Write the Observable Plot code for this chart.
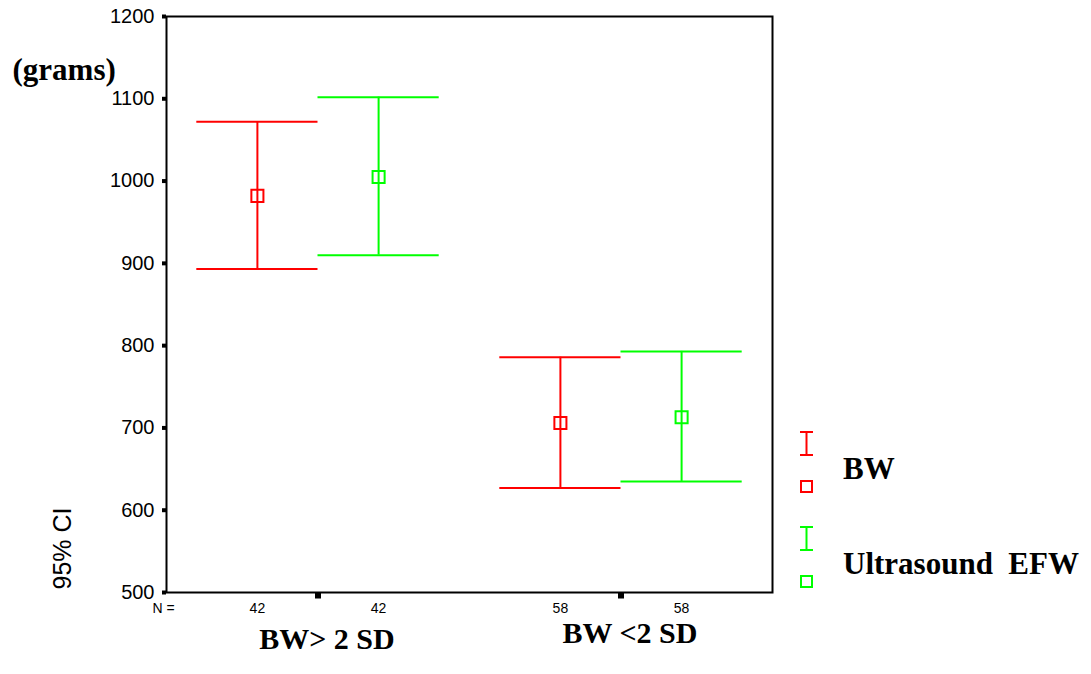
<!DOCTYPE html>
<html><head><meta charset="utf-8">
<script src="https://cdn.jsdelivr.net/npm/d3@7"></script>
<script src="https://cdn.jsdelivr.net/npm/@observablehq/plot@0.6"></script>
<style>body{margin:0;background:#fff}</style>
</head><body><div id="chart"></div>
<script>
// ---- data ----
const groups = ["BW> 2 SD", "BW <2 SD"];
const series = ["BW", "Ultrasound  EFW"];
const seriesColors = ["#ff0000", "#00ff00"];
const rowGroup = ["BW> 2 SD", "BW> 2 SD", "BW <2 SD", "BW <2 SD"];
const rowSeries = ["BW", "Ultrasound  EFW", "BW", "Ultrasound  EFW"];
const meanVals = [982, 1005, 706, 713];
const lowerVals = [893, 910, 627, 635];
const upperVals = [1072, 1102, 786, 793];
const nVals = [42, 42, 58, 58];
const yTicks = [500, 600, 700, 800, 900, 1000, 1100, 1200];
const groupTicks = [1, 2];

// layout: series offset within a group (in x-scale units)
const seriesOffset = [-0.2, 0.2];
const capHalf = 0.2;

const data = rowGroup.map((g, i) => ({
  group: g,
  series: rowSeries[i],
  pos: groups.indexOf(g) + 1 + seriesOffset[series.indexOf(rowSeries[i])],
  mean: meanVals[i], lower: lowerVals[i], upper: upperVals[i], n: nVals[i]
}));
const groupData = groups.map((g, i) => ({label: g, pos: i + 1}));

const sans = "Liberation Sans, Arial, Helvetica, sans-serif";
const serif = "Liberation Serif, Times New Roman, serif";

const chart = Plot.plot({
  width: 1091, height: 674,
  marginLeft: 166, marginRight: 319, marginTop: 16, marginBottom: 82,
  style: {fontFamily: sans, background: "#fff", color: "#000"},
  x: {domain: [0.5, 2.5], axis: null},
  y: {domain: [500, 1200]},
  color: {domain: series, range: seriesColors},
  marks: [
    Plot.axisY({ticks: yTicks, tickSize: 4, strokeWidth: 4, tickPadding: 8, fontSize: 20, label: null, tickFormat: d => String(d)}),
    Plot.frame({stroke: "#000", strokeWidth: 2}),
    Plot.dot(groupTicks, {x: d => d, frameAnchor: "bottom", dy: 3, symbol: "square", r: 3.4, fill: "#000", stroke: "none"}),
    Plot.ruleX(data, {x: "pos", y1: "lower", y2: "upper", stroke: "series", strokeWidth: 2}),
    Plot.ruleY(data, {y: "upper", x1: d => d.pos - capHalf, x2: d => d.pos + capHalf, stroke: "series", strokeWidth: 2}),
    Plot.ruleY(data, {y: "lower", x1: d => d.pos - capHalf, x2: d => d.pos + capHalf, stroke: "series", strokeWidth: 2}),
    Plot.dot(data, {x: "pos", y: "mean", symbol: "square", r: 6.8, stroke: "series", fill: "white", fillOpacity: 0, strokeWidth: 2}),
    Plot.text(data, {x: "pos", text: d => String(d.n), frameAnchor: "bottom", dy: 20, fontSize: 14}),
    Plot.text(["N ="], {frameAnchor: "bottom-left", dx: -14, dy: 20, textAnchor: "start", fontSize: 14}),
    Plot.text(groupData.filter(d => d.pos === 1), {x: "pos", text: "label", frameAnchor: "bottom", dy: 56, dx: 9, fontFamily: serif, fontWeight: "bold", fontSize: 30}),
    Plot.text(groupData.filter(d => d.pos === 2), {x: "pos", text: "label", frameAnchor: "bottom", dy: 50, dx: 9, fontFamily: serif, fontWeight: "bold", fontSize: 30}),
    Plot.text(["95% CI"], {frameAnchor: "bottom-left", rotate: -90, textAnchor: "start", dx: -96, dy: -3, fontSize: 25}),
    Plot.text(["(grams)"], {frameAnchor: "top-left", dx: -154, dy: 41, textAnchor: "start", fontFamily: serif, fontWeight: "bold", fontSize: 31})
  ]
});
document.getElementById("chart").appendChild(chart);

// ---- legend (outside plot frame) ----
const svg = d3.select(chart);
const leg = svg.append("g");
const legendRows = [{top: 432}, {top: 527}];
series.forEach((s, i) => {
  const c = seriesColors[i];
  const t = legendRows[i].top;
  const cx = 806.5, hw = 6.5;
  leg.append("line").attr("x1", cx - hw).attr("x2", cx + hw).attr("y1", t).attr("y2", t).attr("stroke", c).attr("stroke-width", 2);
  leg.append("line").attr("x1", cx - hw).attr("x2", cx + hw).attr("y1", t + 23).attr("y2", t + 23).attr("stroke", c).attr("stroke-width", 2);
  leg.append("line").attr("x1", cx).attr("x2", cx).attr("y1", t).attr("y2", t + 23).attr("stroke", c).attr("stroke-width", 2);
  leg.append("rect").attr("x", cx - 5.5).attr("y", t + 49).attr("width", 11).attr("height", 11).attr("fill", "none").attr("stroke", c).attr("stroke-width", 2);
  leg.append("text").attr("x", 843).attr("y", t + 47).attr("text-anchor", "start").attr("font-family", serif).attr("font-weight", "bold").attr("font-size", 31).attr("fill", "#000").style("white-space", "pre").text(s);
});
</script>
</body></html>
